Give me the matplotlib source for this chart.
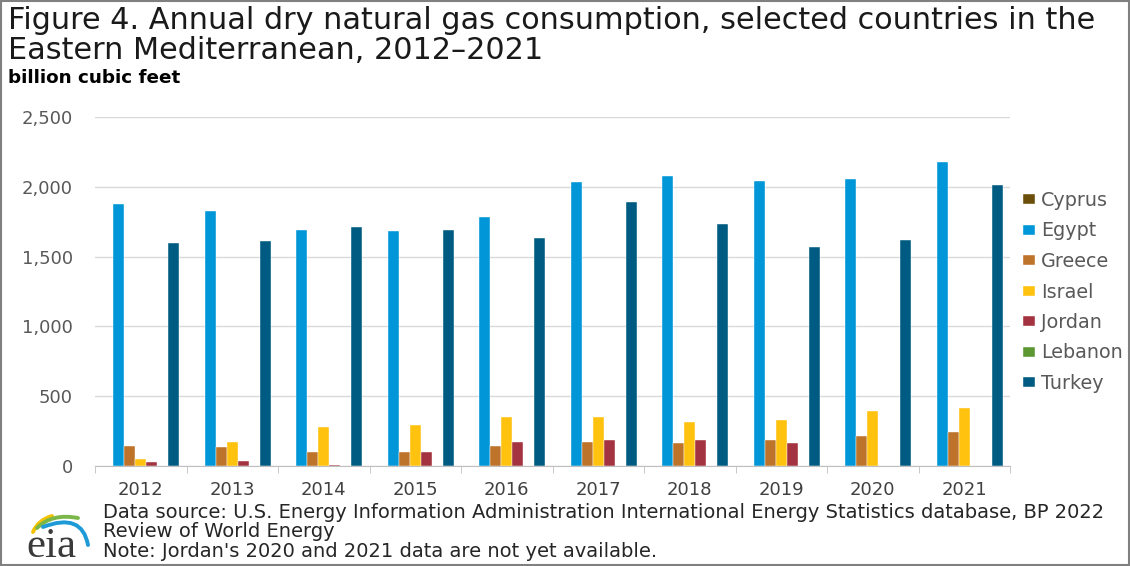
import numpy as np
import matplotlib.pyplot as plt
from matplotlib.patches import Rectangle, PathPatch
from matplotlib.path import Path

plt.rcParams['font.family'] = ['DejaVu Sans']

years = ['2012', '2013', '2014', '2015', '2016', '2017', '2018', '2019', '2020', '2021']
countries = ['Cyprus', 'Egypt', 'Greece', 'Israel', 'Jordan', 'Lebanon', 'Turkey']
cyprus = [0, 0, 0, 0, 0, 0, 0, 0, 0, 0]
egypt = [1875, 1826, 1693, 1681, 1786, 2033, 2076, 2045, 2055, 2181]
greece = [143, 133, 98, 100, 143, 174, 162, 183, 214, 245]
israel = [48, 171, 276, 295, 348, 348, 317, 326, 391, 412]
jordan = [29, 38, 10, 100, 174, 183, 186, 162, np.nan, np.nan]
lebanon = [0, 0, 0, 0, 0, 0, 0, 0, 0, 0]
turkey = [1595, 1612, 1712, 1693, 1631, 1890, 1733, 1569, 1619, 2016]
colors = ['#6B4E0A', '#0096D7', '#BD732A', '#FFC20E', '#A33340', '#5D9732', '#005B82']

series = [cyprus, egypt, greece, israel, jordan, lebanon, turkey]

fig = plt.figure(figsize=(11.3, 5.66), dpi=100)
ax = fig.add_axes([95 / 1130, 100 / 566, 915 / 1130, 349 / 566])

x = np.arange(len(years))
w = 0.12
for j, (name, vals, c) in enumerate(zip(countries, series, colors)):
    ax.bar(x + (j - 3) * w, vals, width=w, color=c, label=name, edgecolor='white', linewidth=0.3)

ax.set_xlim(-0.5, len(years) - 0.5)
ax.set_ylim(0, 2500)
ax.set_yticks(range(0, 2501, 500))
ax.set_yticklabels([f'{v:,}' for v in range(0, 2501, 500)], fontsize=13, color='#595959')
ax.set_xticks(x)
ax.set_xticklabels(years, fontsize=13, color='#404040')
ax.set_xticks(np.arange(-0.5, len(years), 1), minor=True)
ax.tick_params(axis='x', which='major', length=0, pad=11)
ax.tick_params(axis='x', which='minor', length=5, color='#BFBFBF')
ax.tick_params(axis='y', length=0, pad=16)
ax.grid(axis='y', color='#D9D9D9', linewidth=1)
ax.set_axisbelow(True)
for s in ['top', 'right', 'left']:
    ax.spines[s].set_visible(False)
ax.spines['bottom'].set_color('#BFBFBF')

leg = fig.legend(loc='upper left', bbox_to_anchor=(1023 / 1130, 1 - 191 / 566), frameon=False,
                 fontsize=13.8, handlelength=0.65, handleheight=0.45, handletextpad=0.3,
                 labelspacing=0.6, borderaxespad=0, borderpad=0)
for t in leg.get_texts():
    t.set_color('#595959')

fig.text(8 / 1130, 1 - 6 / 566,
         'Figure 4. Annual dry natural gas consumption, selected countries in the\nEastern Mediterranean, 2012\u20132021',
         fontsize=21.8, va='top', ha='left', linespacing=1.04, color='#1a1a1a')
fig.text(8 / 1130, 1 - 78 / 566, 'billion cubic feet', fontsize=13.2, fontweight='bold', va='center', ha='left')

fig.text(103 / 1130, 1 - 503 / 566,
         'Data source: U.S. Energy Information Administration International Energy Statistics database, BP 2022\n'
         'Review of World Energy\nNote: Jordan\'s 2020 and 2021 data are not yet available.',
         fontsize=14, va='top', ha='left', linespacing=1.03, color='#262626')

# eia logo, drawn in a small helper axes with pixel coordinates
lax = fig.add_axes([0, 0, 100 / 1130, 71 / 566])
lax.set_xlim(0, 100)
lax.set_ylim(566, 495)
lax.axis('off')
lax.text(51, 547, 'eia', family='Liberation Serif', fontsize=31, color='#3a3a3a', ha='center', va='center')
for pts, c in [([(33, 532), (38, 520), (52, 516)], '#F2C200'),
               ([(37, 528), (52, 513), (78, 518)], '#7AB648'),
               ([(43, 527), (82, 512), (88, 545)], '#1E9AD6')]:
    lax.add_patch(PathPatch(Path(pts, [Path.MOVETO, Path.CURVE3, Path.CURVE3]),
                            fill=False, edgecolor=c, linewidth=2.8, capstyle='round'))

fig.add_artist(Rectangle((0.001, 0.001), 0.998, 0.998, transform=fig.transFigure,
                         fill=False, edgecolor='#808080', linewidth=1.5))

fig.savefig('out.png', dpi=100)
